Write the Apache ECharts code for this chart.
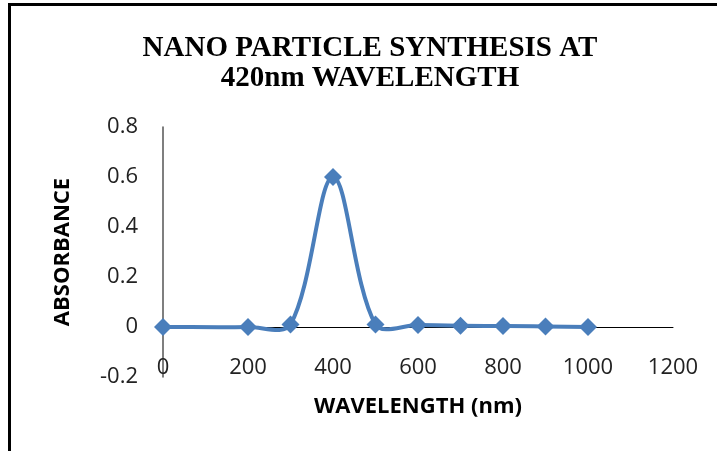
<!DOCTYPE html>
<html>
<head>
<meta charset="utf-8">
<script src="https://cdn.jsdelivr.net/npm/echarts@6/dist/echarts.min.js"></script>
<style>
html,body{margin:0;padding:0;background:#fff;}
#chart{width:717px;height:451px;}
</style>
</head>
<body>
<div id="chart"></div>
<script>
var wavelengths = [0, 200, 300, 400, 500, 600, 700, 800, 900, 1000];
var absorbance = [0, 0, 0.01, 0.6, 0.01, 0.008, 0.005, 0.004, 0.002, 0];
var titleLines = ['NANO PARTICLE SYNTHESIS AT', '420nm WAVELENGTH'];
var xAxisName = 'WAVELENGTH (nm)';
var yAxisName = 'ABSORBANCE';

var chart = echarts.init(document.getElementById('chart'));
var data = wavelengths.map(function (w, i) { return [w, absorbance[i]]; });
var LINE_COLOR = '#4a7ebb';

// Smoothed curve (spreadsheet-style Bezier through the points, no clamping)
function renderSegment(params, api) {
  var n = wavelengths.length;
  var i = params.dataIndex;
  if (i >= n - 1) return null;
  var P = wavelengths.map(function (w, k) { return api.coord([w, absorbance[k]]); });
  function dist(a, b) { return Math.sqrt((a[0] - b[0]) * (a[0] - b[0]) + (a[1] - b[1]) * (a[1] - b[1])); }
  function outCp(k) {
    if (k === 0) return [P[0][0] + (P[1][0] - P[0][0]) / 3, P[0][1] + (P[1][1] - P[0][1]) / 3];
    var T = [P[k + 1][0] - P[k - 1][0], P[k + 1][1] - P[k - 1][1]];
    var dp = dist(P[k], P[k - 1]), dn = dist(P[k], P[k + 1]);
    var r = dn / (dp + dn) / 3;
    return [P[k][0] + T[0] * r, P[k][1] + T[1] * r];
  }
  function inCp(k) {
    if (k === n - 1) return [P[k][0] - (P[k][0] - P[k - 1][0]) / 3, P[k][1] - (P[k][1] - P[k - 1][1]) / 3];
    var T = [P[k + 1][0] - P[k - 1][0], P[k + 1][1] - P[k - 1][1]];
    var dp = dist(P[k], P[k - 1]), dn = dist(P[k], P[k + 1]);
    var r = dp / (dp + dn) / 3;
    return [P[k][0] - T[0] * r, P[k][1] - T[1] * r];
  }
  var c1 = outCp(i), c2 = inCp(i + 1);
  return {
    type: 'bezierCurve',
    shape: {
      x1: P[i][0], y1: P[i][1], x2: P[i + 1][0], y2: P[i + 1][1],
      cpx1: c1[0], cpy1: c1[1], cpx2: c2[0], cpy2: c2[1]
    },
    style: { stroke: LINE_COLOR, lineWidth: 4, fill: null, lineCap: 'round' }
  };
}

chart.setOption({
  animation: false,
  backgroundColor: '#ffffff',
  title: {
    text: titleLines.join('\n'),
    left: 365,
    top: 29,
    textAlign: 'center',
    textStyle: {
      fontFamily: 'Liberation Serif',
      fontWeight: 'bold',
      fontSize: 29,
      lineHeight: 30,
      color: '#000'
    }
  },
  graphic: [
    { type: 'rect', shape: { x: 8, y: 3, width: 3, height: 448 }, style: { fill: '#000' } },
    { type: 'rect', shape: { x: 8, y: 3, width: 709, height: 3 }, style: { fill: '#000' } }
  ],
  grid: { left: 163, right: 44, top: 127, bottom: 74, containLabel: false, outerBoundsMode: 'none' },
  xAxis: {
    type: 'value',
    min: 0,
    max: 1200,
    interval: 200,
    name: xAxisName,
    nameLocation: 'middle',
    nameGap: 19,
    nameMoveOverlap: false,
    nameTextStyle: { fontFamily: 'Open Sans', fontWeight: 'bold', fontSize: 22, color: '#000' },
    axisLine: { show: true, onZero: true, lineStyle: { color: '#000', width: 1 } },
    axisTick: { show: false },
    splitLine: { show: false },
    axisLabel: { margin: -20, fontFamily: 'Open Sans', fontSize: 22, color: '#222',
      formatter: function (v) { return String(v); } }
  },
  yAxis: {
    type: 'value',
    min: -0.2,
    max: 0.8,
    interval: 0.2,
    name: yAxisName,
    nameLocation: 'middle',
    nameGap: 89,
    nameRotate: 90,
    nameMoveOverlap: false,
    nameTextStyle: { fontFamily: 'Open Sans', fontWeight: 'bold', fontSize: 22, color: '#000' },
    axisLine: { show: true, onZero: false, lineStyle: { color: '#555', width: 1.5 } },
    axisTick: { show: false },
    splitLine: { show: false },
    axisLabel: { margin: 25, fontFamily: 'Open Sans', fontSize: 22, color: '#222',
      formatter: function (v) { return String(Math.round(v * 10) / 10); } }
  },
  series: [{
    type: 'custom',
    name: 'curve',
    data: data,
    encode: { x: 0, y: 1 },
    renderItem: renderSegment,
    z: 2
  }, {
    type: 'scatter',
    name: 'points',
    data: data,
    symbol: 'diamond',
    symbolSize: 18,
    itemStyle: { color: LINE_COLOR, opacity: 1 },
    z: 3
  }]
});
</script>
</body>
</html>
